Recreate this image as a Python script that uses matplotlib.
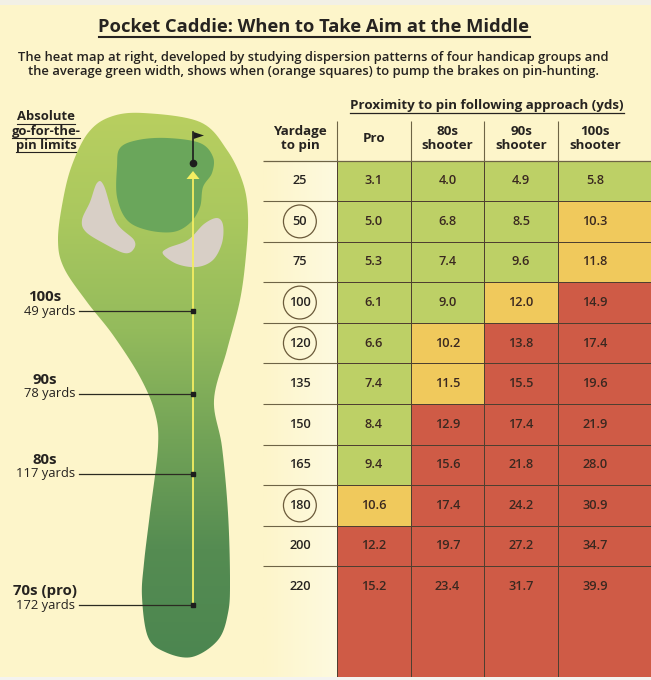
import numpy as np
import matplotlib.pyplot as plt
from matplotlib.colors import ListedColormap, BoundaryNorm, LinearSegmentedColormap
from matplotlib.patches import Polygon
from matplotlib.lines import Line2D

plt.rcParams['font.family'] = ['Open Sans', 'DejaVu Sans']

# table data
yardages = [25, 50, 75, 100, 120, 135, 150, 165, 180, 200, 220]
circled = [50, 100, 120, 180]
groups = ['Pro', '80s\nshooter', '90s\nshooter', '100s\nshooter']
pro = [3.1, 5.0, 5.3, 6.1, 6.6, 7.4, 8.4, 9.4, 10.6, 12.2, 15.2]
s80 = [4.0, 6.8, 7.4, 9.0, 10.2, 11.5, 12.9, 15.6, 17.4, 19.7, 23.4]
s90 = [4.9, 8.5, 9.6, 12.0, 13.8, 15.5, 17.4, 21.8, 24.2, 27.2, 31.7]
s100 = [5.8, 10.3, 11.8, 14.9, 17.4, 19.6, 21.9, 28.0, 30.9, 34.7, 39.9]

# go-for-the-pin limits on the hole
limit_names = ['100s', '90s', '80s', '70s (pro)']
limit_yards = [49, 78, 117, 172]
limit_ypix = [311, 394, 474, 605]  # where they sit on the drawing

BG = '#fdf5ca'
TXT = '#262320'
cell_cmap = ListedColormap(['#bdd066', '#f0c95c', '#cf5b46'])
cell_norm = BoundaryNorm([0, 10, 12.1, 100], 3)

fig = plt.figure(figsize=(6.51, 6.80), dpi=100)
fig.patch.set_facecolor(BG)

# ---- background / hole drawing in pixel coords ----
ax = fig.add_axes([0, 0, 1, 1])
ax.set_xlim(0, 651)
ax.set_ylim(680, 0)
ax.axis('off')
ax.add_patch(plt.Rectangle((0, 0), 651, 5, color='#f2f0e6', lw=0))
ax.add_patch(plt.Rectangle((0, 677), 651, 3, color='#f4f3ef', lw=0))


def smooth(pts, n=12):
    # closed catmull-rom through the points
    p = np.array(pts, float)
    out = []
    m = len(p)
    for i in range(m):
        p0, p1, p2, p3 = p[i - 1], p[i], p[(i + 1) % m], p[(i + 2) % m]
        for t in np.linspace(0, 1, n, endpoint=False):
            t2, t3 = t * t, t * t * t
            out.append(0.5 * ((2 * p1) + (-p0 + p2) * t +
                              (2 * p0 - 5 * p1 + 4 * p2 - p3) * t2 +
                              (-p0 + 3 * p1 - 3 * p2 + p3) * t3))
    return np.array(out)


fairway = [(143, 113), (200, 122), (227, 150), (243, 183), (248, 215), (246, 255),
           (240, 300), (227, 350), (214, 400), (222, 447), (228, 513), (230, 580),
           (228, 613), (218, 640), (192, 657), (165, 652), (148, 637), (142, 597),
           (144, 563), (150, 513), (158, 447), (155, 413), (140, 377), (113, 335),
           (87, 302), (64, 268), (58, 240), (63, 200), (72, 165), (88, 133), (110, 117)]
green = [(117, 167), (120, 148), (138, 140), (167, 138), (200, 143), (213, 157),
         (212, 173), (203, 187), (200, 207), (190, 223), (173, 232), (147, 230),
         (127, 220), (117, 197)]
bunker_l = [(97, 183), (104, 186), (116, 222), (134, 240), (133, 250), (124, 253),
            (105, 244), (86, 232), (82, 220), (90, 202)]
bunker_r = [(163, 254), (168, 248), (188, 240), (204, 224), (217, 218), (223, 225),
            (222, 243), (213, 260), (197, 267), (177, 264)]

fw = Polygon(smooth(fairway), closed=True, facecolor='none', edgecolor='none')
ax.add_patch(fw)
fw_cmap = LinearSegmentedColormap.from_list(
    'fw', ['#b9cf60', '#aac85e', '#94bb5c', '#72a357', '#558c52', '#4c8650'])
grad = np.linspace(0, 1, 256).reshape(-1, 1)
im = ax.imshow(grad, cmap=fw_cmap, extent=(50, 260, 660, 108), aspect='auto', zorder=1)
im.set_clip_path(fw)

ax.add_patch(Polygon(smooth(green), closed=True, facecolor='#6aa65b', edgecolor='none', zorder=2))
for b in (bunker_l, bunker_r):
    ax.add_patch(Polygon(smooth(b), closed=True, facecolor='#d8cfc6', edgecolor='none', zorder=2))

# shot line, arrow and flag
xline = 193
ax.plot([xline, xline], [178, limit_ypix[-1]], color='#f4ee62', lw=1.3, zorder=3)
ax.add_patch(Polygon([(xline, 171), (xline - 6.5, 179), (xline + 6.5, 179)],
                     closed=True, facecolor='#f4ee62', edgecolor='none', zorder=3))
ax.plot([xline, xline], [132, 163], color='#1d1d1d', lw=1.2, zorder=4)
ax.add_patch(Polygon([(xline + 0.5, 132), (xline + 11, 135.5), (xline + 0.5, 139)],
                     closed=True, facecolor='#1d1d1d', edgecolor='none', zorder=4))
ax.plot(xline, 163, 'o', color='#1d1d1d', ms=4.5, zorder=4)

for name, yds, yp in zip(limit_names, limit_yards, limit_ypix):
    ax.text(45, yp - 14, name, ha='center', va='center', fontsize=10.8,
            fontweight='bold', color=TXT)
    ax.text(75, yp, f'{yds} yards', ha='right', va='center', fontsize=9.4, color=TXT)
    ax.plot([79, xline], [yp, yp], color='#2b2b22', lw=0.9, zorder=3)
    ax.plot(xline, yp, 's', color='#1d1d1d', ms=2.5, zorder=4)

abs_lines = ['Absolute', 'go-for-the-', 'pin limits']
abs_texts = []
for k, s in enumerate(abs_lines):
    abs_texts.append(ax.text(46, 117 + 14 * k, s, ha='center', va='center',
                             fontsize=9.4, fontweight='bold', color=TXT))

# lighter strip behind yardage column
strip = np.linspace(0, 1, 64).reshape(1, -1)
ax.imshow(strip, cmap=LinearSegmentedColormap.from_list('st', [BG, '#fefadf']),
          extent=(263, 337, 677, 160), aspect='auto', zorder=0.5)

# ---- titles ----
title = fig.text(314 / 651, 1 - 27 / 680, 'Pocket Caddie: When to Take Aim at the Middle',
                 ha='center', va='center', fontsize=13.2, fontweight='bold', color=TXT)
fig.text(313 / 651, 1 - 64.5 / 680,
         'The heat map at right, developed by studying dispersion patterns of four handicap groups and\n'
         'the average green width, shows when (orange squares) to pump the brakes on pin-hunting.',
         ha='center', va='center', fontsize=9.38, fontweight='semibold', color=TXT, linespacing=1.2)
prox = fig.text(487 / 651, 1 - 105 / 680, 'Proximity to pin following approach (yds)',
                ha='center', va='center', fontsize=9.6, fontweight='bold', color=TXT)

# ---- heat map table ----
nrows = len(yardages)
last_bottom = 12.73
axt = fig.add_axes([263 / 651, 3 / 680, (651 - 263) / 651, (677 - 120) / 680])
axt.set_xlim(-1, 4.26)
axt.set_ylim(last_bottom, -1)
axt.axis('off')
axt.patch.set_alpha(0)

vals = np.array([pro, s80, s90, s100]).T
xedges = [0, 1, 2, 3, 4.26]
yedges = list(range(nrows)) + [last_bottom]
axt.pcolormesh(xedges, yedges, vals, cmap=cell_cmap, norm=cell_norm,
               edgecolors='#4f3f30', linewidth=0.6)

for i in range(nrows):
    for j in range(4):
        axt.text(j + 0.5, i + 0.5, f'{vals[i, j]:.1f}', ha='center', va='center',
                 fontsize=9.2, fontweight='semibold', color='#3a2820')
    axt.text(-0.5, i + 0.5, str(yardages[i]), ha='center', va='center',
             fontsize=9.2, fontweight='semibold', color=TXT)

axt.hlines(range(1, nrows), -1, 0, color='#6e6446', lw=0.8)
axt.hlines(0, -1, 4.26, color='#6e6446', lw=0.9)
axt.vlines([0, 1, 2, 3], -0.98, 0, color='#6e6446', lw=0.8)

cy = [yardages.index(c) + 0.5 for c in circled]
axt.scatter([-0.5] * len(cy), cy, s=560, facecolors='none', edgecolors='#6b5a3a',
            linewidths=0.9, zorder=5)

axt.text(-0.5, -0.55, 'Yardage\nto pin', ha='center', va='center', fontsize=9.6,
         fontweight='bold', color=TXT, linespacing=1.05)
for j, g in enumerate(groups):
    axt.text(j + 0.5, -0.55, g, ha='center', va='center', fontsize=9.6,
             fontweight='bold', color=TXT, linespacing=1.05)

# ---- underlines ----
fig.canvas.draw()
r = fig.canvas.get_renderer()


def underline(t, gap=3, lw=1.0):
    bb = t.get_window_extent(r)
    y = bb.y0 - gap
    fig.add_artist(Line2D([bb.x0 / fig.bbox.width, bb.x1 / fig.bbox.width],
                          [y / fig.bbox.height, y / fig.bbox.height],
                          color=TXT, lw=lw, transform=fig.transFigure))


underline(title, gap=1, lw=1.5)
underline(prox, gap=1, lw=0.9)
for t in abs_texts:
    underline(t, gap=0, lw=0.8)

fig.savefig('out.png', dpi=100, facecolor=BG)
